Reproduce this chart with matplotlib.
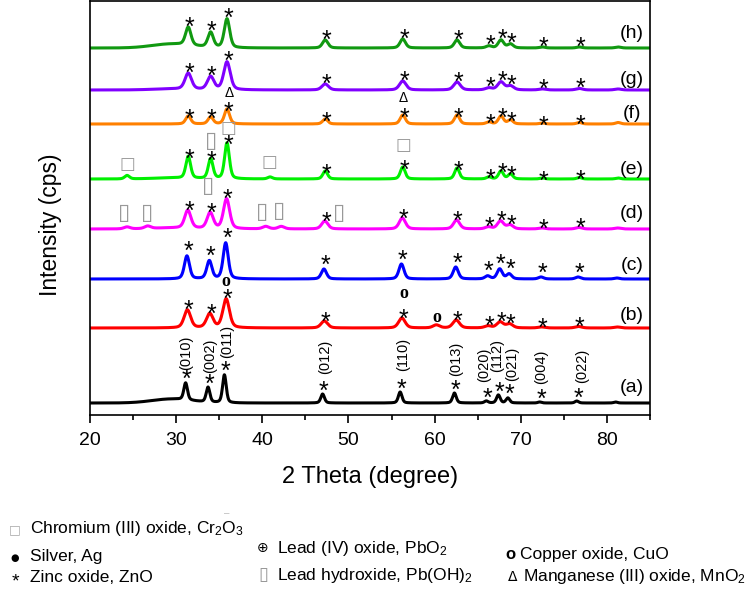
import numpy as np
import matplotlib
matplotlib.use("Agg")
import matplotlib.pyplot as plt

plt.rcParams['font.family'] = ['Liberation Sans', 'DejaVu Sans']
plt.rcParams['mathtext.fontset'] = 'custom'
plt.rcParams['mathtext.rm'] = 'Liberation Sans'
plt.rcParams['mathtext.it'] = 'Liberation Sans:italic'

# ZnO reflections (2 theta, degree) as seen in sample (a)
zno_peaks = [31.1, 33.7, 35.6, 47.0, 56.0, 62.3, 66.0, 67.4, 68.5, 72.2, 76.5, 81.0]
hkl = ["(010)", "(002)", "(011)", "(012)", "(110)", "(013)",
       "(020)", "(112)", "(021)", "(004)", "(022)"]
# where the hkl labels sit on (a): 2 theta, intensity
hkl_x = [31.1, 33.9, 35.9, 47.3, 56.4, 62.5, 65.7, 67.3, 69.0, 72.4, 77.1]
hkl_y = [62, 59, 74, 58, 61, 56, 50, 59, 51, 48, 49]

samples = ["(a)", "(b)", "(c)", "(d)", "(e)", "(f)", "(g)", "(h)"]
colors = ["black", "#ff0000", "#0000ff", "#ff00ff", "#00f000", "#ff8000", "#8000ff", "#119911"]
offsets = [12, 87, 136, 186, 236, 291, 325, 367]   # stacking offset of each pattern
shifts = [0.0, 0.2, 0.15, 0.25, 0.3, 0.3, 0.3, 0.3]
widths = [0.5, 0.9, 0.7, 0.85, 0.65, 0.7, 0.9, 0.75]   # FWHM, degree
humps = [4, 0, 0, 1, 1, 0, 1, 4]                      # broad bump near 29.5
star_lift = [10, 6, 11, 6, 4, 4, 7, 7]                 # gap of the * above each peak

heights = [
    [17, 15, 28, 9, 11, 10, 2, 8, 5, 1, 2, 1],
    [18, 14, 29, 7, 10, 8, 2, 6, 4, 1, 1.5, 1],
    [23, 18, 36, 10, 15, 12, 3, 10, 5, 2, 2, 1],
    [18, 16, 30, 8, 11, 9, 2, 8, 4, 1, 1.5, 1],
    [22, 20, 36, 8, 12, 11, 2, 8, 5, 1, 1.5, 1],
    [8, 7, 15, 5, 9, 9, 2, 8, 4, 1, 1.5, 1.5],
    [16, 13, 28, 6, 9, 8, 2, 8, 4, 1, 1.5, 1],
    [18, 15, 29, 8, 9, 8, 2, 8, 4, 1, 1, 1],
]

# minor phase peaks: sample index -> (2 theta, height)
extra_peaks = {
    1: [(60.2, 3)],
    3: [(24.3, 2), (26.7, 2.5), (40.4, 2.5), (42.2, 2.5)],
    4: [(24.3, 3.5), (40.9, 2)],
}

# phase symbols: (2 theta, intensity)
cuo_marks = [(35.8, 134), (56.4, 121), (60.2, 98)]
mno2_marks = [(36.1, 322), (56.3, 317)]
cr2o3_marks = [(24.3, 251), (36.1, 287), (40.8, 253), (56.4, 270)]
cr2o3_tall = [(34.1, 274)]
pboh_marks = [(24.0, 202), (26.6, 202), (40.0, 203), (42.0, 204), (48.9, 202), (33.7, 229)]

label_y = [28, 99, 149, 202, 246, 302, 335, 382]


def peak(x, x0, h, w):
    lor = 1.0 / (1.0 + ((x - x0) / (w / 2)) ** 2)
    gau = np.exp(-4 * np.log(2) * ((x - x0) / w) ** 2)
    return h * (0.4 * lor + 0.6 * gau)


fig = plt.figure(figsize=(7.54, 5.94), dpi=100)
ax = fig.add_axes([90 / 754, 179 / 594, 560 / 754, 414 / 594])

x = np.linspace(20, 85, 3000)
for i, name in enumerate(samples):
    y = np.full_like(x, float(offsets[i]))
    y += humps[i] * np.exp(-0.5 * ((x - 29.5) / 2.3) ** 2)
    for p, h in zip(zno_peaks, heights[i]):
        y += peak(x, p + shifts[i], h, widths[i])
    for p, h in extra_peaks.get(i, []):
        y += peak(x, p, h, widths[i])
    ax.plot(x, y, color=colors[i], lw=2.2, solid_capstyle="round")
    for p in zno_peaks[:11]:
        top = np.interp(p + shifts[i], x, y)
        ax.text(p + shifts[i] + 0.15, top + star_lift[i] - 14.5, "*",
                ha="center", va="baseline", fontsize=18, color="black")
    ax.text(82.9, label_y[i], name, ha="center", va="center", fontsize=14)

for lab, lx, ly in zip(hkl, hkl_x, hkl_y):
    ax.text(lx, ly, lab, rotation=90, ha="center", va="center", fontsize=10.5)

for px, py in cuo_marks:
    ax.text(px, py, "o", ha="center", va="center", fontsize=13,
            family="Liberation Serif", weight="bold")
for px, py in mno2_marks:
    ax.text(px, py, "\u0394", ha="center", va="center", fontsize=10)
for px, py in cr2o3_marks:
    ax.text(px, py, "\u25a1", ha="center", va="center", fontsize=12,
            family="DejaVu Sans", color="#999999")
for px, py in cr2o3_tall + pboh_marks:
    ax.text(px, py, "\u25af", ha="center", va="center", fontsize=16,
            family="DejaVu Sans", color="#999999")

ax.set_xlim(20, 85)
ax.set_ylim(0, 414)
ax.set_yticks([])
ax.set_xticks([20, 30, 40, 50, 60, 70, 80])
ax.set_xticks([25, 35, 45, 55, 65, 75, 85], minor=True)
ax.tick_params(axis="x", which="major", length=6, width=1.2, labelsize=14, pad=6)
ax.tick_params(axis="x", which="minor", length=3.6, width=1.2)
for s in ax.spines.values():
    s.set_linewidth(1.2)

ax.set_xlabel("2 Theta (degree)", fontsize=17)
ax.xaxis.set_label_coords(0.5, -0.123)
ax.set_ylabel("Intensity (cps)", fontsize=16.5)
ax.yaxis.set_label_coords(-0.05, 0.459)

# legend of phases
H = 594.0
legend_sym = [
    (15, 533, "\u25a1", "#aaaaaa", 9),
    (15, 561, "\u25cf", "black", 7),
    (15, 586, "*", "black", 14),
    (263, 552, "\u2295", "black", 10),
    (263, 580, "\u25af", "#999999", 13),
    (510, 559, "o", "black", 12),
    (513, 581, "\u0394", "black", 10),
]
legend_txt = [
    (30, 533, r"Chromium (III) oxide, Cr$_\mathrm{2}$O$_\mathrm{3}$"),
    (30, 561, "Silver, Ag"),
    (30, 582, "Zinc oxide, ZnO"),
    (277, 553, r"Lead (IV) oxide, PbO$_\mathrm{2}$"),
    (277, 580, r"Lead hydroxide, Pb(OH)$_\mathrm{2}$"),
    (520, 559, "Copper oxide, CuO"),
    (523, 581, r"Manganese (III) oxide, MnO$_\mathrm{2}$"),
]
for sx, sy, sym, col, fs in legend_sym:
    kw = {}
    if sym == "o":
        kw = dict(weight="bold")
    elif sym != "*":
        kw = dict(family="DejaVu Sans")
    fig.text(sx / 754, 1 - sy / H, sym, ha="center", va="baseline",
             fontsize=fs, color=col, **kw)
for tx, ty, t in legend_txt:
    fig.text(tx / 754, 1 - ty / H, t, ha="left", va="baseline", fontsize=12.5)
# faint stray dash above Cr2O3 seen in the original
fig.text(227 / 754, 1 - 516 / H, "\u2013", ha="center", va="baseline",
         fontsize=7, color="#bbbbbb")

fig.savefig("out.png", dpi=100)
